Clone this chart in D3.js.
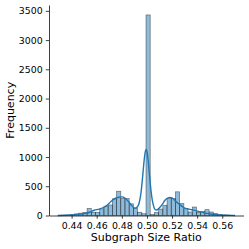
<!DOCTYPE html>
<html>
<head>
<meta charset="utf-8">
<script src="https://cdn.jsdelivr.net/npm/d3@7"></script>
<style>
  body { margin: 0; background: #fff; }
  text { font-family: "DejaVu Sans", sans-serif; fill: #000; }
</style>
</head>
<body>
<div id="chart"></div>
<script>
// histogram: left edge of the first bin, bin width, and counts per bin
const binStart = 0.43226;
const binWidth = 0.00335;
const binCounts = [5, 10, 18, 28, 40, 50, 120, 55, 55, 115,
                   160, 180, 285, 415, 290, 290, 200, 125, 55, 30,
                   3430, 15, 50, 110, 175, 290, 290, 405, 205, 115,
                   60, 145, 55, 70, 100, 60, 35, 20, 10, 5];

// kde curve (ratio, frequency)
const kdeX = [0.4290, 0.4350, 0.4400, 0.4450, 0.4500, 0.4550, 0.4580, 0.4620, 0.4666, 0.4700,
              0.4724, 0.4750, 0.4775, 0.4800, 0.4825, 0.4852, 0.4875, 0.4891, 0.4905, 0.4918,
              0.49304, 0.49384, 0.49464, 0.49543, 0.49623, 0.49703, 0.49783, 0.49862, 0.49942,
              0.50022, 0.50101, 0.50181, 0.50261, 0.50340, 0.50420, 0.50500, 0.50580, 0.50659,
              0.5075, 0.5090, 0.5104, 0.5125, 0.5144, 0.5165, 0.5184, 0.5200, 0.5225, 0.5250,
              0.5275, 0.5290, 0.5320, 0.5343, 0.5370, 0.5396, 0.5420, 0.5449, 0.5475, 0.5502,
              0.5540, 0.5582, 0.5640, 0.5702];
const kdeY = [0, 4, 10, 20, 35, 60, 90, 110, 150, 210,
              262, 295, 312, 318, 300, 240, 180, 142, 126, 135,
              170, 218, 300, 418, 583, 771, 951, 1082, 1130,
              1075, 935, 750, 560, 395, 270, 185, 130, 102,
              95, 110, 140, 200, 262, 298, 310, 302, 250, 205,
              165, 140, 115, 105, 92, 80, 66, 50, 36, 25,
              16, 10, 4, 0];

const xTicks = [0.44, 0.46, 0.48, 0.50, 0.52, 0.54, 0.56];
const yTicks = [0, 500, 1000, 1500, 2000, 2500, 3000, 3500];

const width = 249;
const height = 249;
const plotLeft = 49, plotRight = 243.6, plotTop = 5, plotBottom = 215.5;

const svg = d3.select("#chart").append("svg")
    .attr("width", width)
    .attr("height", height);

const x = d3.scaleLinear().domain([0.422, 0.577]).range([plotLeft, plotRight]);
const y = d3.scaleLinear().domain([0, 3600]).range([plotBottom, plotTop]);

const bins = binCounts.map((c, i) => ({x0: binStart + i * binWidth, x1: binStart + (i + 1) * binWidth, count: c}));

// bars
svg.append("g").selectAll("rect")
    .data(bins)
    .enter()
    .append("rect")
        .attr("x", d => x(d.x0))
        .attr("y", d => y(d.count))
        .attr("width", d => x(d.x1) - x(d.x0))
        .attr("height", d => y(0) - y(d.count))
        .attr("fill", "#1f77b4")
        .attr("fill-opacity", 0.5)
        .attr("stroke", "#000")
        .attr("stroke-opacity", 0.5)
        .attr("stroke-width", 0.7);

// kde line
const line = d3.line()
    .x((d, i) => x(kdeX[i]))
    .y(d => y(d))
    .curve(d3.curveMonotoneX);

svg.append("path")
    .datum(kdeY)
    .attr("d", line)
    .attr("fill", "none")
    .attr("stroke", "#1f77b4")
    .attr("stroke-width", 1.4);

// axes
const fs = "9.4px";
const yAxis = svg.append("g")
    .attr("transform", `translate(${plotLeft},0)`)
    .call(d3.axisLeft(y).tickValues(yTicks).tickFormat(d3.format("d")).tickSize(3.2).tickPadding(3.2).tickSizeOuter(0));
const xAxis = svg.append("g")
    .attr("transform", `translate(0,${plotBottom})`)
    .call(d3.axisBottom(x).tickValues(xTicks).tickFormat(d3.format(".2f")).tickSize(3.2).tickPadding(3.2).tickSizeOuter(0));

[yAxis, xAxis].forEach(a => {
    a.attr("font-family", null).attr("font-size", null);
    a.selectAll("text").style("font-size", fs).attr("fill", "#000");
    a.selectAll("line").attr("stroke", "#000").attr("stroke-width", 0.75);
    a.select(".domain").attr("stroke", "#000").attr("stroke-width", 0.75);
});

// axis labels
svg.append("text")
    .attr("x", (plotLeft + plotRight) / 2)
    .attr("y", 240.7)
    .attr("text-anchor", "middle")
    .style("font-size", "11px")
    .text("Subgraph Size Ratio");

svg.append("text")
    .attr("transform", `translate(14,${(plotTop + plotBottom) / 2}) rotate(-90)`)
    .attr("text-anchor", "middle")
    .style("font-size", "11px")
    .text("Frequency");
</script>
</body>
</html>
